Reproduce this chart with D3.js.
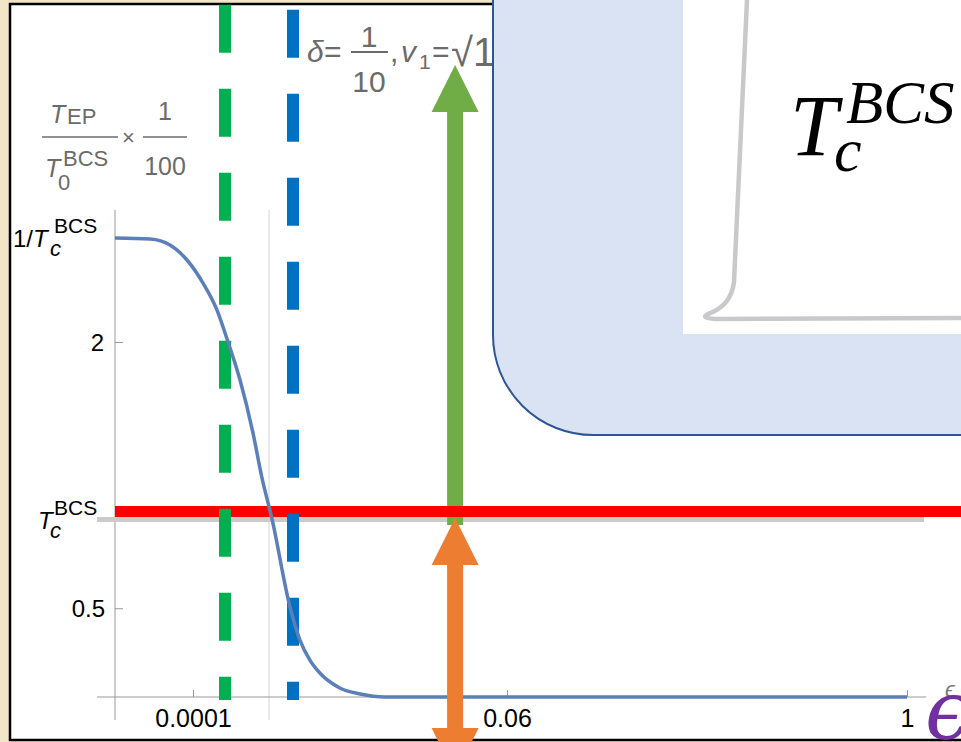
<!DOCTYPE html>
<html>
<head>
<meta charset="utf-8">
<script src="https://cdn.jsdelivr.net/npm/d3@7"></script>
<style>
  body { margin: 0; background: #f3e5c7; }
  svg { display: block; font-family: "Liberation Sans", Arial, sans-serif; }
</style>
</head>
<body>
<svg id="chart"></svg>
<script>
// curve: epsilon vs T_EP / T_0^BCS x 1/100
const curveEps = [0, 0.0000449, 0.0000705, 0.0000923, 0.00201, 0.00468, 0.00678, 0.00907,
  0.01155, 0.01326, 0.01517, 0.0186, 0.0205, 0.0224, 0.0243, 0.0281, 0.0320, 0.0367, 0.2, 0.6, 1]
const curveVal = [2.586, 2.580, 2.547, 2.462, 2.332, 2.180, 2.0, 1.786,
  1.487, 1.234, 1.003, 0.507, 0.321, 0.208, 0.135, 0.051, 0.017, 0, 0, 0, 0]

const xTicks = [0.0001, 0.06, 1]
const xTickLabels = ["0.0001", "0.06", "1"]
const yTicks = [2.586, 2, 1, 0.5]

const tcLevel = 1          // grey T_c^BCS line
const redLevel = 1.045     // red line drawn over it
const gridEps = 0.0146     // light vertical grid line
const greenEps = 0.00621   // green dashed line
const blueEps = 0.01918    // blue dashed line
const arrowEps = 0.0501    // both arrows
const greenArrow = [0.969, 3.56]   // from, tip
const orangeArrow = [1.008, -0.44] // top tip, bottom tip

const W = 961, H = 742

const svg = d3.select("#chart").attr("width", W).attr("height", H)

// piecewise scale, the axis of the figure is not uniform
const x = d3.scaleLinear()
  .domain([0, 0.0001, 0.06, 1])
  .range([115, 193, 507, 907])

const y = d3.scaleLinear()
  .domain([0, 2])
  .range([697, 342])

const xAxisExtent = [-0.000023, 1.045]
const yAxisExtent = [-0.13, 2.744]
const topVal = 3.9

// paper frame
svg.append("rect")
  .attr("x", 10).attr("y", 4)
  .attr("width", 1000).attr("height", 736)
  .attr("fill", "white")
  .attr("stroke", "black")
  .attr("stroke-width", 2.5)

// grid line
svg.append("line")
  .attr("x1", x(gridEps)).attr("x2", x(gridEps))
  .attr("y1", y(yAxisExtent[1])).attr("y2", y(yAxisExtent[0]))
  .attr("stroke", "#dcdcdc").attr("stroke-width", 1.2)

// axes
svg.append("line")
  .attr("x1", x(xAxisExtent[0])).attr("x2", x(xAxisExtent[1]))
  .attr("y1", y(0)).attr("y2", y(0))
  .attr("stroke", "#999").attr("stroke-width", 1)

svg.append("line")
  .attr("x1", x(0)).attr("x2", x(0))
  .attr("y1", y(yAxisExtent[0])).attr("y2", y(yAxisExtent[1]))
  .attr("stroke", "#999").attr("stroke-width", 1)

const xAxis = svg.append("g")
  .attr("transform", `translate(0,${y(0)})`)
  .call(d3.axisBottom(x).tickValues(xTicks).tickSize(-7).tickPadding(12)
    .tickFormat((d, i) => xTickLabels[i]))
xAxis.attr("font-family", null).attr("font-size", null)
xAxis.select(".domain").remove()
xAxis.selectAll("line").attr("stroke", "#999")
xAxis.selectAll("text")
  .attr("font-size", 25)
  .attr("fill", "black")

const yAxis = svg.append("g")
  .attr("transform", `translate(${x(0)},0)`)
  .call(d3.axisLeft(y).tickValues(yTicks).tickSize(-8).tickFormat(""))
yAxis.select(".domain").remove()
yAxis.selectAll("line").attr("stroke", "#999")

// grey T_c line
svg.append("line")
  .attr("x1", x(xAxisExtent[0])).attr("x2", x(1.04))
  .attr("y1", y(tcLevel)).attr("y2", y(tcLevel))
  .attr("stroke", "#cbcbcb").attr("stroke-width", 5)

// arrows
const headLen = 47, headHalf = 23.5, shaftHalf = 8

function upArrow(cx, from, tip){
  return [[cx - shaftHalf, from], [cx - shaftHalf, tip + headLen], [cx - headHalf, tip + headLen],
    [cx, tip], [cx + headHalf, tip + headLen], [cx + shaftHalf, tip + headLen], [cx + shaftHalf, from]]
}

function doubleArrow(cx, t, b){
  return [[cx, t], [cx + headHalf, t + headLen], [cx + shaftHalf, t + headLen],
    [cx + shaftHalf, b - headLen], [cx + headHalf, b - headLen], [cx, b],
    [cx - headHalf, b - headLen], [cx - shaftHalf, b - headLen], [cx - shaftHalf, t + headLen],
    [cx - headHalf, t + headLen]]
}

svg.append("polygon")
  .attr("points", upArrow(x(arrowEps), y(greenArrow[0]), y(greenArrow[1])).join(" "))
  .attr("fill", "#70ad47")

// red line
svg.append("line")
  .attr("x1", x(0)).attr("x2", x(1.2))
  .attr("y1", y(redLevel)).attr("y2", y(redLevel))
  .attr("stroke", "#ff0000").attr("stroke-width", 11)

// dashed vertical lines
svg.append("line")
  .attr("x1", x(greenEps)).attr("x2", x(greenEps))
  .attr("y1", y(topVal)).attr("y2", y(-0.017))
  .attr("stroke", "#00b050").attr("stroke-width", 12)
  .attr("stroke-dasharray", "48 36")

svg.append("line")
  .attr("x1", x(blueEps)).attr("x2", x(blueEps))
  .attr("y1", y(topVal)).attr("y2", y(-0.017))
  .attr("stroke", "#0070c0").attr("stroke-width", 12)
  .attr("stroke-dasharray", "48 36")
  .attr("stroke-dashoffset", 79)

// the curve
const line = d3.line()
  .x((d, i) => x(curveEps[i]))
  .y(d => y(d))
  .curve(d3.curveMonotoneX)

svg.append("path")
  .datum(curveVal)
  .attr("d", line)
  .attr("fill", "none")
  .attr("stroke", "#5b7fb8")
  .attr("stroke-width", 3.5)

svg.append("polygon")
  .attr("points", doubleArrow(x(arrowEps), y(orangeArrow[0]), y(orangeArrow[1])).join(" "))
  .attr("fill", "#ed7d31")

// y tick labels
const ink = "black"
function tLabel(g, xs, base, prefix){
  const t = g.append("text").attr("fill", ink).attr("font-size", 24)
  if (prefix) t.append("tspan").attr("x", xs[0]).attr("y", base).text(prefix)
  t.append("tspan").attr("x", xs[1]).attr("y", base).attr("font-style", "italic").text("T")
  t.append("tspan").attr("x", xs[2]).attr("y", base + 9).attr("font-style", "italic").attr("font-size", 22).text("c")
  t.append("tspan").attr("x", xs[3]).attr("y", base - 14).attr("font-size", 21).text("BCS")
}
tLabel(svg, [13, 33, 50, 54], y(yTicks[0]) + 9, "1/")
tLabel(svg, [0, 38, 50, 54], y(yTicks[2]) + 9, null)

svg.append("text").attr("x", x(0) - 11).attr("y", y(2) + 8.5)
  .attr("text-anchor", "end").attr("font-size", 24).attr("fill", ink).text("2")
svg.append("text").attr("x", x(0) - 10).attr("y", y(0.5) + 8.5)
  .attr("text-anchor", "end").attr("font-size", 24).attr("fill", ink).text("0.5")

// plot label, top left
const grey = "#6b6b6b"
const lab = svg.append("g").attr("fill", grey)
lab.append("text").attr("x", 50).attr("y", 123).attr("font-size", 25).attr("font-style", "italic").text("T")
lab.append("text").attr("x", 67).attr("y", 124).attr("font-size", 22).text("EP")
lab.append("line").attr("x1", 42).attr("x2", 118).attr("y1", 137).attr("y2", 137).attr("stroke", grey).attr("stroke-width", 1.5)
lab.append("text").attr("x", 45).attr("y", 177).attr("font-size", 25).attr("font-style", "italic").text("T")
lab.append("text").attr("x", 63).attr("y", 166).attr("font-size", 22).text("BCS")
lab.append("text").attr("x", 58).attr("y", 190).attr("font-size", 22).text("0")
lab.append("text").attr("x", 122).attr("y", 145).attr("font-size", 22).text("×")
lab.append("text").attr("x", 165).attr("y", 120).attr("font-size", 25).attr("text-anchor", "middle").text("1")
lab.append("line").attr("x1", 143).attr("x2", 187).attr("y1", 137).attr("y2", 137).attr("stroke", grey).attr("stroke-width", 1.5)
lab.append("text").attr("x", 165).attr("y", 175).attr("font-size", 25).attr("text-anchor", "middle").text("100")

// parameter label
const par = svg.append("g").attr("fill", grey)
par.append("text").attr("x", 307).attr("y", 62).attr("font-size", 30).attr("font-style", "italic").text("δ")
par.append("text").attr("x", 324).attr("y", 62).attr("font-size", 30).text("=")
par.append("text").attr("x", 369).attr("y", 47).attr("font-size", 30).attr("text-anchor", "middle").text("1")
par.append("line").attr("x1", 351).attr("x2", 388).attr("y1", 52).attr("y2", 52).attr("stroke", grey).attr("stroke-width", 1.8)
par.append("text").attr("x", 369).attr("y", 92).attr("font-size", 30).attr("text-anchor", "middle").text("10")
par.append("text").attr("x", 390).attr("y", 62).attr("font-size", 30).text(",")
par.append("text").attr("x", 401).attr("y", 62).attr("font-size", 30).attr("font-style", "italic").text("v")
par.append("text").attr("x", 419).attr("y", 69).attr("font-size", 21).text("1")
par.append("text").attr("x", 432).attr("y", 62).attr("font-size", 30).text("=")
par.append("text").attr("x", 451).attr("y", 66).attr("font-size", 40).text("√1")

// small axis label
svg.append("text").attr("x", 945).attr("y", 697).attr("font-size", 22)
  .attr("font-style", "italic").attr("fill", "#777").text("ϵ")

// callout box pasted on top
svg.append("rect")
  .attr("x", 493).attr("y", -120)
  .attr("width", 600).attr("height", 555)
  .attr("rx", 100)
  .attr("fill", "#dae3f3")
  .attr("stroke", "#2f5597")
  .attr("stroke-width", 2)

svg.append("rect")
  .attr("x", 683).attr("y", -5)
  .attr("width", 300).attr("height", 339)
  .attr("fill", "white")

svg.append("path")
  .attr("d", "M747,0 L734,282 Q731,306 708,314 Q700,318 715,319 L961,318")
  .attr("fill", "none")
  .attr("stroke", "#c9c9cc")
  .attr("stroke-width", 4.5)
  .attr("stroke-linecap", "round")

const tc = svg.append("g").attr("fill", "black")
  .attr("font-family", "'Liberation Serif', 'DejaVu Serif', serif").attr("font-style", "italic")
tc.append("text").attr("x", 790).attr("y", 155).attr("font-size", 86).text("T")
tc.append("text").attr("x", 834).attr("y", 171).attr("font-size", 62).text("c")
tc.append("text").attr("x", 846).attr("y", 123).attr("font-size", 61).text("BCS")

// big purple epsilon
svg.append("text").attr("x", 925).attr("y", 739).attr("font-size", 82)
  .attr("font-family", "'DejaVu Serif', serif").attr("font-style", "italic")
  .attr("fill", "#7030a0").text("ϵ")
</script>
</body>
</html>
